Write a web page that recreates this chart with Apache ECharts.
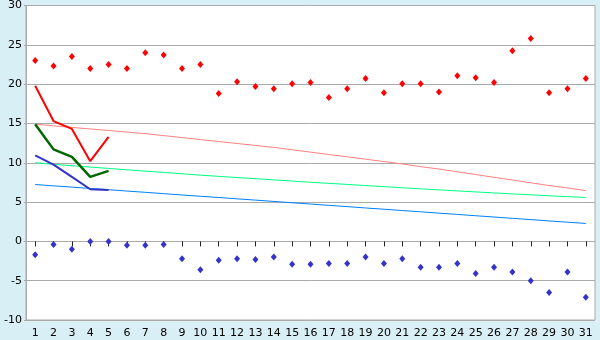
<!DOCTYPE html>
<html>
<head>
<meta charset="utf-8">
<script src="https://cdn.jsdelivr.net/npm/echarts@6/dist/echarts.min.js"></script>
<style>
html,body{margin:0;padding:0;background:#d9eff6;}
#c{width:600px;height:340px;}
</style>
</head>
<body>
<div id="c"></div>
<script>
var categories = ['1','2','3','4','5','6','7','8','9','10','11','12','13','14','15','16','17','18','19','20','21','22','23','24','25','26','27','28','29','30','31'];
var yTicks = [-10, -5, 0, 5, 10, 15, 20, 25, 30];

var redPoints = [23, 22.3, 23.5, 22, 22.5, 22, 24, 23.7, 22, 22.5, 18.8, 20.3, 19.7, 19.4, 20.05, 20.2, 18.3, 19.4, 20.7, 18.9, 20.05, 20.05, 19.0, 21.07, 20.8, 20.2, 24.25, 25.8, 18.9, 19.4, 20.7];
var bluePoints = [-1.7, -0.4, -1.0, 0, 0, -0.5, -0.5, -0.4, -2.2, -3.6, -2.4, -2.2, -2.3, -2.0, -2.9, -2.9, -2.8, -2.8, -2.0, -2.8, -2.2, -3.3, -3.3, -2.8, -4.1, -3.3, -3.9, -5.0, -6.5, -3.9, -7.1];

var redThick = [19.8, 15.3, 14.3, 10.2, 13.3];
var greenThick = [14.9, 11.7, 10.75, 8.2, 8.96];
var blueThick = [10.95, 9.77, 8.2, 6.63, 6.55];

var pinkTrend = [14.9, 14.7, 14.5, 14.3, 14.1, 13.9, 13.7, 13.45, 13.2, 12.95, 12.7, 12.45, 12.2, 11.95, 11.65, 11.35, 11.05, 10.75, 10.45, 10.15, 9.85, 9.5, 9.2, 8.85, 8.5, 8.15, 7.8, 7.45, 7.1, 6.8, 6.45];
var greenTrend = [10.0, 9.8, 9.62, 9.45, 9.28, 9.1, 8.93, 8.77, 8.6, 8.42, 8.27, 8.12, 7.97, 7.82, 7.67, 7.52, 7.38, 7.24, 7.1, 6.96, 6.82, 6.68, 6.55, 6.42, 6.29, 6.16, 6.04, 5.92, 5.8, 5.69, 5.58];
var blueTrend = [7.23, 7.06, 6.9, 6.73, 6.57, 6.4, 6.24, 6.07, 5.9, 5.74, 5.58, 5.41, 5.25, 5.08, 4.91, 4.75, 4.58, 4.42, 4.25, 4.09, 3.92, 3.76, 3.59, 3.43, 3.26, 3.1, 2.93, 2.77, 2.6, 2.44, 2.28];

var chart = echarts.init(document.getElementById('c'), null, {renderer: 'canvas'});
var font = 'DejaVu Sans';
function lineSeries(name, data, color, width) {
  return {name: name, type: 'line', data: data, symbol: 'none', showSymbol: false,
    lineStyle: {color: color, width: width, opacity: 1}, itemStyle: {color: color}, animation: false, z: 3};
}
function pointSeries(name, data, color) {
  return {name: name, type: 'scatter', data: data, symbol: 'diamond', symbolSize: [6, 7],
    itemStyle: {color: color, opacity: 1}, z: 4};
}
chart.setOption({
  animation: false,
  backgroundColor: '#d9eff6',
  grid: {left: 26, right: 5, top: 5, bottom: 20, show: true, backgroundColor: '#ffffff', borderColor: '#aaaaaa', borderWidth: 1},
  xAxis: {
    type: 'category', data: categories, boundaryGap: true,
    axisLine: {show: true, lineStyle: {color: '#aaaaaa'}},
    axisTick: {show: true, alignWithLabel: true, length: 5, lineStyle: {color: '#222222'}},
    axisLabel: {color: '#000', fontFamily: font, fontSize: 11, margin: 8, interval: 0}
  },
  yAxis: {
    type: 'value', min: yTicks[0], max: yTicks[yTicks.length - 1], interval: 5,
    axisLine: {show: true, lineStyle: {color: '#aaaaaa'}},
    axisTick: {show: true, length: 2, lineStyle: {color: '#aaaaaa'}},
    axisLabel: {color: '#000', fontFamily: font, fontSize: 11, margin: 4},
    splitLine: {show: true, lineStyle: {color: '#aaaaaa'}}
  },
  series: [
    lineSeries('pink', pinkTrend, '#ff8080', 1),
    lineSeries('lightgreen', greenTrend, '#00ff80', 1),
    lineSeries('lightblue', blueTrend, '#0080ff', 1),
    lineSeries('red', redThick, '#ff0000', 2),
    lineSeries('darkgreen', greenThick, '#006600', 2.5),
    lineSeries('blue', blueThick, '#3333cc', 2),
    pointSeries('redpts', redPoints, '#ff0000'),
    pointSeries('bluepts', bluePoints, '#3333cc')
  ]
});
</script>
</body>
</html>
